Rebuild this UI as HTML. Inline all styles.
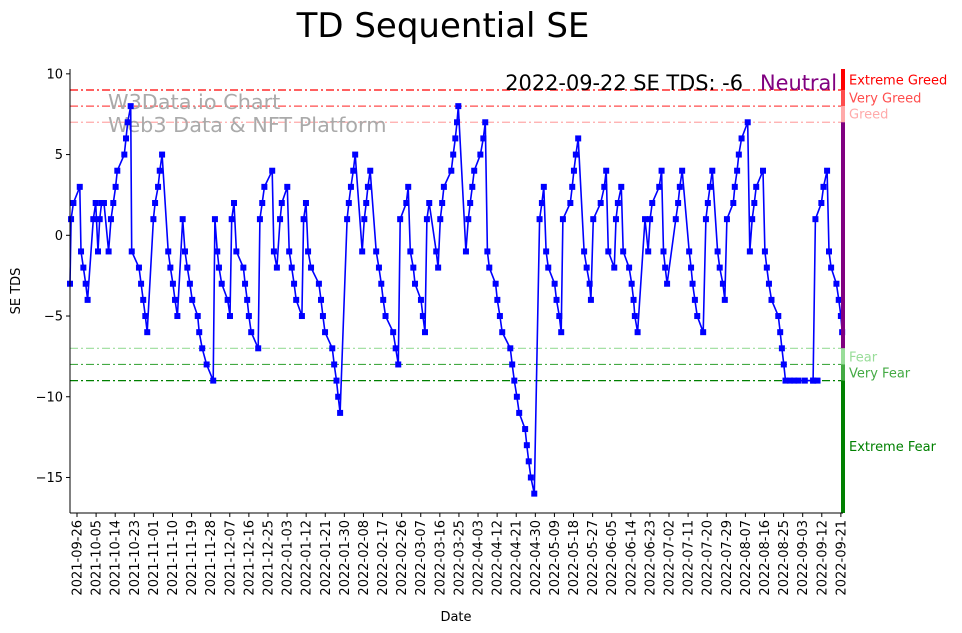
<!DOCTYPE html>
<html><head><meta charset="utf-8"><style>
body{margin:0;background:#fff;}
svg{display:block;font-family:"DejaVu Sans","Liberation Sans",sans-serif;}
</style></head><body>
<svg id="chart" width="962" height="633">
<text x="443" y="37" font-size="34" text-anchor="middle">TD Sequential SE</text>
<g id="grid"></g>
<text x="108" y="109" font-size="20.8" fill="#aaaaaa">W3Data.io Chart</text>
<text x="108" y="132" font-size="20.8" fill="#aaaaaa">Web3 Data &amp; NFT Platform</text>
<g id="series"></g>
<g id="axes"></g>
<text x="743" y="90" font-size="20.9" text-anchor="end">2022-09-22 SE TDS: -6</text>
<text x="760" y="90" font-size="20.9" fill="#800080">Neutral</text>
<text x="20" y="291" font-size="13" text-anchor="middle" transform="rotate(-90 20 291)">SE TDS</text>
<text x="456" y="621" font-size="13" text-anchor="middle">Date</text>
</svg>
<script>
const days=[-3.3,-2.8,-1.7,1.3,1.9,3.0,4.1,5.0,7.7,8.8,9.9,10.7,11.6,12.7,14.9,16.0,17.1,18.2,19.0,22.3,23.1,23.9,25.3,25.8,29.2,30.2,31.2,32.2,33.1,36.0,36.8,38.2,39.0,40.1,43.0,44.0,45.2,46.2,47.3,49.8,50.9,52.0,53.2,54.3,56.9,57.6,59.0,61.1,64.2,65.0,66.1,66.9,68.2,71.0,72.1,72.9,74.0,75.1,78.4,79.2,80.2,81.0,82.1,85.4,86.2,87.3,88.3,92.0,92.8,94.2,95.7,96.5,99.1,100.0,101.2,102.3,103.3,106.0,106.8,107.9,108.9,110.3,114.0,115.0,115.9,116.9,120.3,121.2,122.3,123.1,124.0,127.3,128.1,129.1,130.2,131.1,134.4,135.4,136.3,137.1,138.2,141.0,142.3,143.4,144.3,145.4,149.0,150.2,151.4,152.3,155.2,156.1,157.1,158.5,159.3,162.1,163.0,164.0,164.9,166.0,169.3,170.2,171.2,172.1,172.9,176.4,177.3,178.3,179.1,179.7,183.3,184.4,185.3,186.3,187.2,190.1,191.5,192.4,193.4,194.3,197.3,198.1,199.3,200.4,204.2,205.1,206.1,207.3,208.4,211.2,212.0,212.9,213.9,215.5,218.0,219.1,220.0,221.1,222.1,225.1,226.0,227.3,228.2,229.0,232.5,233.4,234.2,235.1,236.2,239.0,240.2,241.6,242.2,243.3,246.8,248.5,249.4,250.4,253.2,254.0,254.9,256.5,257.4,260.2,261.4,262.3,262.9,264.2,267.7,269.2,270.1,271.1,274.4,275.5,276.4,277.2,278.1,282.2,283.3,284.1,285.2,288.5,289.4,290.1,291.2,292.3,295.1,296.4,297.3,298.3,299.4,301.9,302.9,304.4,305.3,306.3,309.3,310.0,311.1,311.9,313.2,316.1,317.1,318.2,319.2,320.1,323.3,324.2,325.1,326.1,327.3,330.5,331.4,332.2,333.1,333.9,336,338,340,343,347,349,346.9,348.0,350.8,351.8,353.5,354.4,355.4,357.9,359.0,360.0,360.6];
const tds=[-3,1,2,3,-1,-2,-3,-4,1,2,-1,1,2,2,-1,1,2,3,4,5,6,7,8,-1,-2,-3,-4,-5,-6,1,2,3,4,5,-1,-2,-3,-4,-5,1,-1,-2,-3,-4,-5,-6,-7,-8,-9,1,-1,-2,-3,-4,-5,1,2,-1,-2,-3,-4,-5,-6,-7,1,2,3,4,-1,-2,1,2,3,-1,-2,-3,-4,-5,1,2,-1,-2,-3,-4,-5,-6,-7,-8,-9,-10,-11,1,2,3,4,5,-1,1,2,3,4,-1,-2,-3,-4,-5,-6,-7,-8,1,2,3,-1,-2,-3,-4,-5,-6,1,2,-1,-2,1,2,3,4,5,6,7,8,-1,1,2,3,4,5,6,7,-1,-2,-3,-4,-5,-6,-7,-8,-9,-10,-11,-12,-13,-14,-15,-16,1,2,3,-1,-2,-3,-4,-5,-6,1,2,3,4,5,6,-1,-2,-3,-4,1,2,3,4,-1,-2,1,2,3,-1,-2,-3,-4,-5,-6,1,-1,1,2,3,4,-1,-2,-3,1,2,3,4,-1,-2,-3,-4,-5,-6,1,2,3,4,-1,-2,-3,-4,1,2,3,4,5,6,7,-1,1,2,3,4,-1,-2,-3,-4,-5,-6,-7,-8,-9,-9,-9,-9,-9,-9,-9,-9,1,2,3,4,-1,-2,-3,-4,-5,-6];
const yTicks=[-15,-10,-5,0,5,10];
const xTickStart='2021-09-26';
const xTickStep=9;
const xTickCount=41;
const levels=[9,8,7,-7,-8,-9];
const levelColors=['#ff0000','#ff4d4d','#ffaaaa','#99dd99','#44aa44','#008000'];
const zoneNames=['Extreme Greed','Very Greed','Greed','Fear','Very Fear','Extreme Fear'];
const zoneLabelY=[9.65,8.55,7.55,-7.5,-8.5,-13.05];

const X0=70,X1=843,Y0=69,Y1=513;
const dMin=-3.3,dMax=361.0,vMin=-17.2,vMax=10.3;
const xs=d=>X0+(d-dMin)/(dMax-dMin)*(X1-X0);
const ys=v=>Y1-(v-vMin)/(vMax-vMin)*(Y1-Y0);
const NS='http://www.w3.org/2000/svg';
function mk(tag,attrs,parent){const e=document.createElementNS(NS,tag);for(const k in attrs)e.setAttribute(k,attrs[k]);parent.appendChild(e);return e;}
const grid=document.getElementById('grid'),series=document.getElementById('series'),axes=document.getElementById('axes');

levels.forEach((lv,i)=>{
  const l=mk('line',{x1:X0,x2:X1,y1:ys(lv),y2:ys(lv),stroke:levelColors[i],'stroke-width':1.2,'stroke-dasharray':'8,3,2,3'},grid);
  
  
  const t=mk('text',{x:849,y:ys(zoneLabelY[i])+5,'font-size':13,fill:levelColors[i]},axes);
  t.textContent=zoneNames[i];
  
  
});
const bands=[[vMax,9,'#ff0000'],[9,8,'#ff4d4d'],[8,7,'#ffaaaa'],[7,-7,'#800080'],[-7,-8,'#99dd99'],[-8,-9,'#44aa44'],[-9,vMin,'#008000']];
bands.forEach((b,i)=>{
  const r=mk('rect',{x:841,y:ys(b[0]),width:4,height:ys(b[1])-ys(b[0]),fill:b[2]},axes);
  
  
});
const pts=days.map((d,i)=>xs(d).toFixed(1)+','+ys(tds[i]).toFixed(1)).join(' ');
const pl=mk('polyline',{points:pts,fill:'none',stroke:'#0000ff','stroke-width':1.6},series);


days.forEach((d,i)=>{
  const m=mk('rect',{x:xs(d)-3,y:ys(tds[i])-3,width:6,height:6,fill:'#0000ff'},series);
  
  
});
let a=mk('line',{x1:X0,x2:X0,y1:Y0,y2:Y1,stroke:'#000','stroke-width':1},axes);


a=mk('line',{x1:X0,x2:X1,y1:Y1,y2:Y1,stroke:'#000','stroke-width':1},axes);


yTicks.forEach(v=>{
  mk('line',{x1:X0-4,x2:X0,y1:ys(v),y2:ys(v),stroke:'#000'},axes);
  const t=mk('text',{x:X0-7,y:ys(v)+4.5,'font-size':13,'text-anchor':'end'},axes);
  t.textContent=v<0?'\u2212'+(-v):String(v);
  
  
});
const base=new Date(xTickStart+'T00:00:00Z');
for(let i=0;i<xTickCount;i++){
  const d=i*xTickStep;
  const dt=new Date(base.getTime()+d*86400000);
  const lab=dt.toISOString().slice(0,10);
  const x=xs(d);
  mk('line',{x1:x,x2:x,y1:Y1,y2:Y1+4,stroke:'#000'},axes);
  const t=mk('text',{x:x+4.5,y:Y1+7,'font-size':13,'text-anchor':'end',transform:`rotate(-90 ${x+4.5} ${Y1+7})`},axes);
  t.textContent=lab;
  
  
}
</script>
</body></html>
